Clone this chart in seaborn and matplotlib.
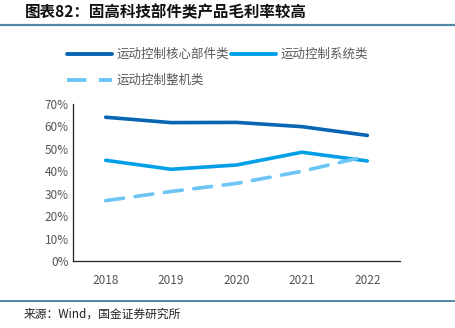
import matplotlib
matplotlib.use("Agg")
import matplotlib.pyplot as plt
import seaborn as sns
import pandas as pd
from matplotlib.ticker import PercentFormatter, FixedLocator
from matplotlib.lines import Line2D

years = ["2018", "2019", "2020", "2021", "2022"]
series_names = ["运动控制核心部件类", "运动控制系统类", "运动控制整机类"]
core_parts = [64.1, 61.7, 61.8, 59.9, 56.0]
systems = [44.9, 40.9, 42.8, 48.5, 44.6]
machines = [26.9, 31.0, 34.6, 40.0, 46.8]
yticks = [0, 10, 20, 30, 40, 50, 60, 70]
title = "图表82：固高科技部件类产品毛利率较高"
source = "来源：Wind，国金证券研究所"

colors = ["#0865B3", "#009FE8", "#6CC5F4"]

sns.set_style("white")
plt.rcParams['font.family'] = ['Noto Sans CJK SC', 'DejaVu Sans']

fig = plt.figure(figsize=(4.56, 3.28), dpi=100)
ax = fig.add_axes([73/456, 1-261/328, (400-73)/456, (261-104)/328])

x = list(range(len(years)))
df = pd.DataFrame({
    "x": x * 3,
    "v": core_parts + systems + machines,
    "s": [series_names[0]] * 5 + [series_names[1]] * 5 + [series_names[2]] * 5,
})
for i, name in enumerate(series_names):
    sub = df[df.s == name]
    sns.lineplot(data=sub, x="x", y="v", ax=ax, color=colors[i], linewidth=2.6,
                 legend=False, solid_capstyle="round", dash_capstyle="round")
ax.lines[2].set_dashes([5, 3.2])

ax.set_xlim(-0.5, len(years) - 0.5)
ax.set_ylim(0, 70)
ax.set_xticks(x)
ax.set_xticklabels(years)
ax.xaxis.set_minor_locator(FixedLocator([i + 0.5 for i in range(-1, len(years))]))
ax.tick_params(axis="x", which="major", length=0, pad=9, labelsize=8.5, labelcolor="#555555")
ax.tick_params(axis="x", which="minor", length=3.5, direction="in", width=0.8, color="#222222")
ax.set_yticks(yticks)
ax.yaxis.set_major_formatter(PercentFormatter(decimals=0))
ax.tick_params(axis="y", length=3.5, direction="in", width=0.8, labelsize=8.5,
               labelcolor="#555555", color="#222222", pad=3)
ax.set_xlabel("")
ax.set_ylabel("")
for sp in ["top", "right"]:
    ax.spines[sp].set_visible(False)
for sp in ["left", "bottom"]:
    ax.spines[sp].set_color("#222222")
    ax.spines[sp].set_linewidth(0.9)

h_core = Line2D([], [], color=colors[0], lw=2.8)
h_sys = Line2D([], [], color=colors[1], lw=2.8)
h_mach = Line2D([], [], color=colors[2], lw=2.8, dashes=[5, 3.2])
leg = fig.legend([h_core, h_mach, h_sys],
                 [series_names[0], series_names[2], series_names[1]],
                 loc="upper left", bbox_to_anchor=(62/456, 1-43/328),
                 ncol=2, frameon=False, fontsize=9, handlelength=3.6, handletextpad=0.4,
                 columnspacing=0.1, labelspacing=1.05, borderaxespad=0)
for t in leg.get_texts():
    t.set_color("#5a5a5a")

fig.text(25/456, 1-12/328, title, fontsize=11.2, fontweight="bold", style="italic",
         color="#111111", va="center", ha="left")
fig.add_artist(Line2D([0, 1], [1-25/328, 1-25/328], transform=fig.transFigure,
                      color="#4F89A6", lw=1.6))
fig.add_artist(Line2D([0, 1], [1-301/328, 1-301/328], transform=fig.transFigure,
                      color="#4F89A6", lw=1.4))
fig.text(24/456, 1-314/328, source, fontsize=8.5, color="#222222", va="center", ha="left")

fig.savefig("out.png", dpi=100)
